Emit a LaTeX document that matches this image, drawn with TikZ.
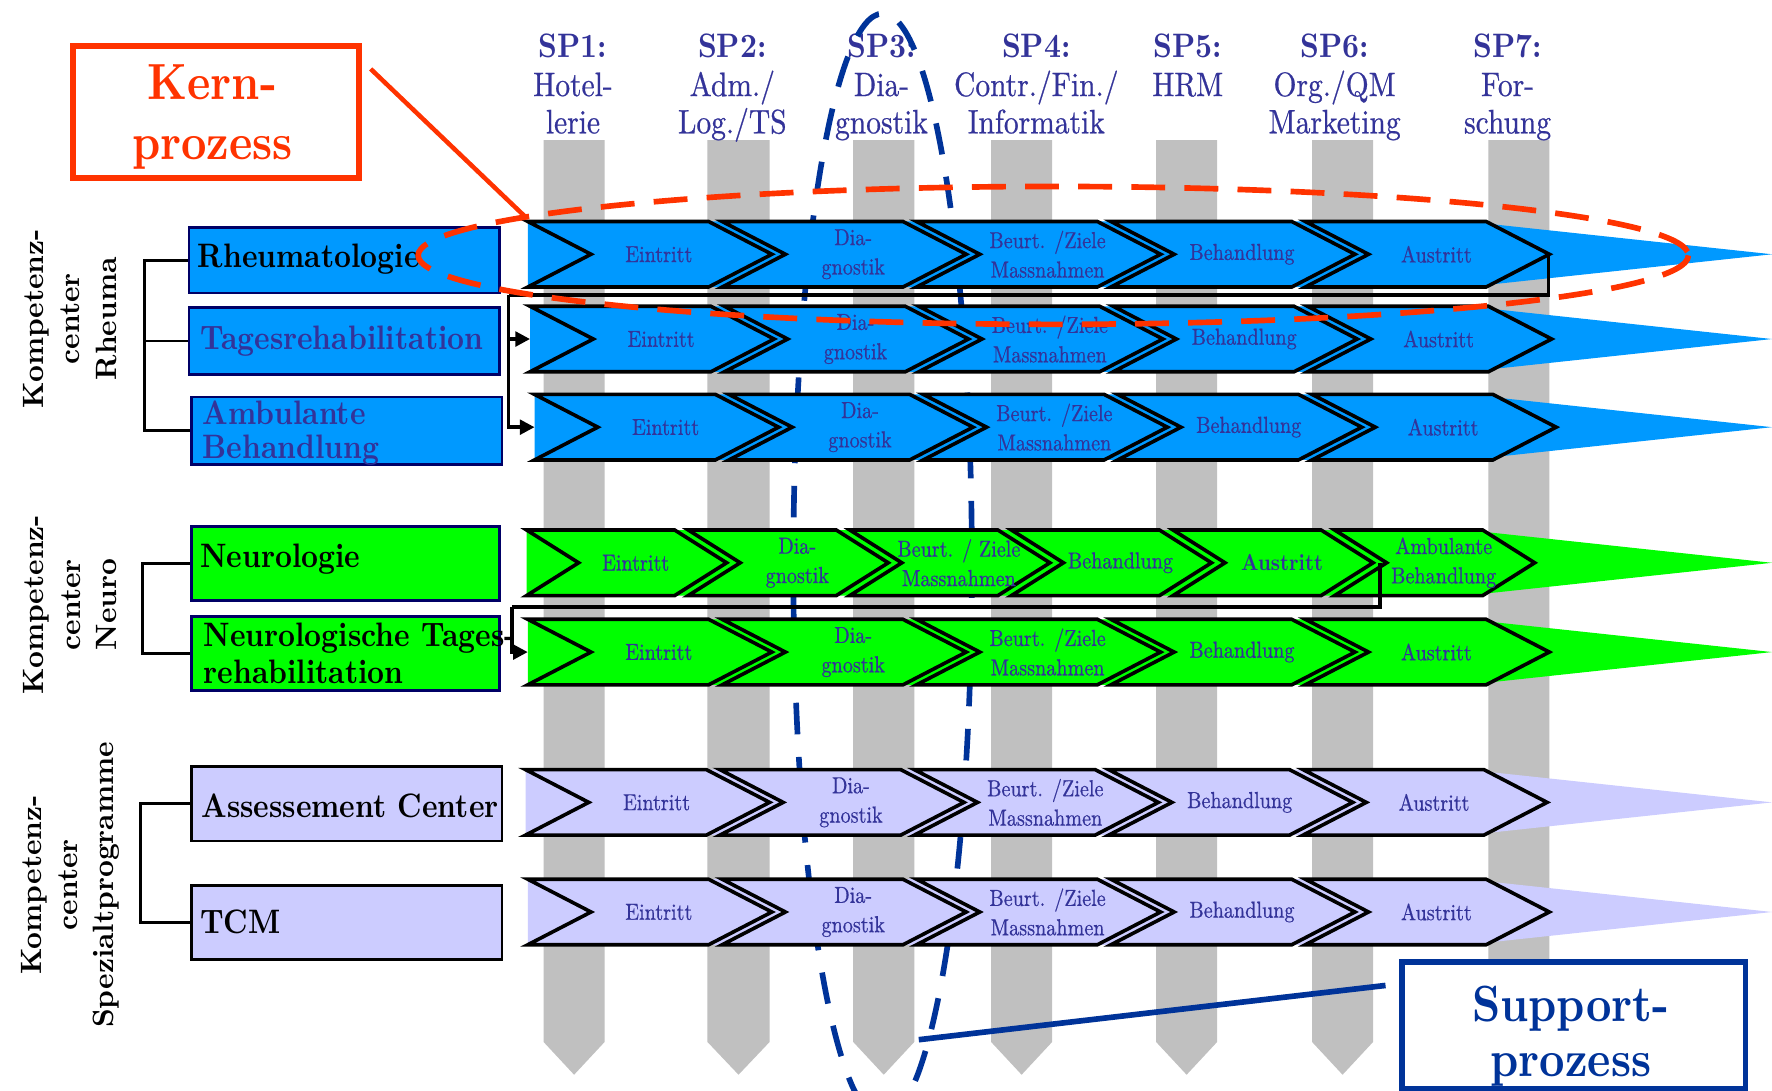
\documentclass[tikz,border=0pt]{standalone}
\usepackage{fontspec}
\setmainfont{lmroman10}[Extension=.otf, UprightFont=*-regular, BoldFont=*-bold, FakeStretch=0.87, UprightFeatures={FakeBold=0.6}]
\newfontfamily\grpf{lmroman10}[Extension=.otf, UprightFont=*-bold, BoldFont=*-bold]
\usetikzlibrary{arrows.meta}
\definecolor{rheu}{HTML}{0099FF}
\definecolor{neur}{HTML}{00FF00}
\definecolor{spez}{HTML}{CCCCFF}
\definecolor{txtb}{HTML}{333399}
\definecolor{kernc}{HTML}{FF3300}
\definecolor{suppc}{HTML}{003399}
\definecolor{barg}{HTML}{C0C0C0}
\definecolor{bxnav}{HTML}{000066}
\tikzset{
  chev/.style={draw=black, line width=3.2pt, line join=miter},
  lbl/.style={text=txtb, font=\fontsize{20.5}{26}\selectfont, align=center, inner sep=0pt},
  hdr/.style={text=txtb, font=\fontsize{30}{34}\selectfont, anchor=base, inner sep=0pt},
  hdrb/.style={hdr, font=\bfseries\fontsize{30}{34}\selectfont},
  lbox/.style={line width=2.5pt, anchor=north west, inner sep=0pt},
  ltxt/.style={font=\bfseries\fontsize{30}{33}\selectfont, anchor=west, align=left, inner sep=0pt},
  grp/.style={font=\grpf\fontsize{26}{32}\selectfont, rotate=90, align=center, inner sep=0pt},
  brk/.style={line width=2.5pt, draw=black},
  conn/.style={line width=3pt, draw=black},
  tip/.style={-{Triangle[length=13pt,width=13pt]}},
  bigtxt/.style={font=\bfseries\fontsize{45}{52}\selectfont, anchor=base, inner sep=0pt},
}
% #1 name, #2 top, #3 bottom, #4 x0, #5 step, #6 width, #7 point depth, #8 colour, #9 labels
\newcommand{\chevrow}[9]{%
  \fill[#8] (#4,#2) -- (1298,#2) -- (1568,{(#2+#3)/2}) -- (1298,#3) -- (#4,#3) -- cycle;
  \foreach \lab [count=\i from 0] in {#9} {
    \pgfmathsetmacro{\ax}{#4+\i*#5}
    \draw[chev,fill=#8] (\ax,#2) -- ++(#6,0) -- ++(#7,{(#3-#2)/2}) -- ++(-#7,{(#3-#2)/2})
      -- ++(-#6,0) -- ++(#7,{-(#3-#2)/2}) -- cycle;
    \node[lbl] (#1-\i) at ({\ax+(#6+#7)/2+8},{(#2+#3)/2}) {\lab};
  }%
}
\begin{document}
\begin{tikzpicture}[x=1pt,y=-1pt]
\useasboundingbox (0,0) rectangle (1568,965);
\clip (0,0) rectangle (1568,965);
\fill[white] (0,0) rectangle (1568,965);

% grey support columns
\foreach \l/\r in {481/535,626/681,755/809,877/931,1023/1077,1161/1215,1317/1371}
  \fill[barg] (\l,124) -- (\r,124) -- (\r,922) -- ({(\l+\r)/2},951) -- (\l,922) -- cycle;

% headers
\node[hdrb] (h1a) at (507,51) {SP1:};
\node[hdr]  (h1b) at (507,85) {Hotel-};
\node[hdr]  (h1c) at (507,118) {lerie};
\node[hdrb] (h2a) at (648,51) {SP2:};
\node[hdr]  (h2b) at (648,85) {Adm./};
\node[hdr]  (h2c) at (648,118) {Log./TS};
\node[hdrb] (h3a) at (780,51) {SP3:};
\node[hdr]  (h3b) at (780,85) {Dia-};
\node[hdr]  (h3c) at (780,118) {gnostik};
\node[hdrb] (h4a) at (917,51) {SP4:};
\node[hdr]  (h4b) at (917,85) {Contr./Fin./};
\node[hdr]  (h4c) at (917,118) {Informatik};
\node[hdrb] (h5a) at (1051,51) {SP5:};
\node[hdr]  (h5b) at (1051,85) {HRM};
\node[hdrb] (h6a) at (1181,51) {SP6:};
\node[hdr]  (h6b) at (1181,85) {Org./QM};
\node[hdr]  (h6c) at (1181,118) {Marketing};
\node[hdrb] (h7a) at (1334,51) {SP7:};
\node[hdr]  (h7b) at (1334,85) {For-};
\node[hdr]  (h7c) at (1334,118) {schung};

% support process ellipse (behind the rows)
\draw[suppc, line width=5pt, dash pattern=on 28pt off 20pt] (781,501) ellipse [x radius=79, y radius=489];

% group labels
\node[grp] (g1) at (62,282) {Kompetenz-\\center\\Rheuma};
\node[grp] (g2) at (62,535) {Kompetenz-\\center\\Neuro};
\node[grp] (g3) at (62,783) {Kompetenz-\\center\\Spezialtprogramme};

% left boxes
\node[lbox, draw=bxnav, fill=rheu, minimum width=275pt, minimum height=58pt] (b1) at (166,200) {};
\node[lbox, draw=bxnav, fill=rheu, minimum width=275pt, minimum height=59pt] (b2) at (166,271) {};
\node[lbox, draw=bxnav, fill=rheu, minimum width=275pt, minimum height=60pt] (b3) at (168,350) {};
\node[lbox, draw=bxnav, fill=neur, minimum width=273pt, minimum height=65pt] (b4) at (168,465) {};
\node[lbox, draw=bxnav, fill=neur, minimum width=273pt, minimum height=66pt] (b5) at (168,544) {};
\node[lbox, draw=black, fill=spez, minimum width=275pt, minimum height=66pt] (b6) at (168,677) {};
\node[lbox, draw=black, fill=spez, minimum width=275pt, minimum height=66pt] (b7) at (168,782) {};

\node[ltxt] (t1) at (175,229) {Rheumatologie};
\node[ltxt, text=txtb] (t2) at (177,302) {Tagesrehabilitation};
\node[ltxt, text=txtb, font=\bfseries\fontsize{30}{30}\selectfont] (t3) at (179,383) {Ambulante\\Behandlung};
\node[ltxt] (t4) at (177,495) {Neurologie};
\node[ltxt] (t5) at (180,578) {Neurologische Tages-\\rehabilitation};
\node[ltxt] (t6) at (178,713) {Assessement Center};
\node[ltxt] (t7) at (177,816) {TCM};

% brackets
\draw[brk] (b1.west) -- ++(-38,0) |- (b3.west);
\draw[brk] (b2.west) -- ++(-38,0);
\draw[brk] (b4.west) -- ++(-42,0) |- (b5.west);
\draw[brk] (b6.west) -- ++(-44,0) |- (b7.west);

% process rows
\chevrow{r1}{196}{254}{467}{172}{160}{56}{rheu}{Eintritt,{Dia-\\gnostik},{Beurt. /Ziele\\Massnahmen},Behandlung,Austritt}
\chevrow{r2}{271}{329}{469}{172}{160}{56}{rheu}{Eintritt,{Dia-\\gnostik},{Beurt. /Ziele\\Massnahmen},Behandlung,Austritt}
\chevrow{r3}{349}{407}{473}{172}{160}{56}{rheu}{Eintritt,{Dia-\\gnostik},{Beurt. /Ziele\\Massnahmen},Behandlung,Austritt}
\chevrow{r4}{469}{527}{466}{143}{131}{46}{neur}{Eintritt,{Dia-\\gnostik},{Beurt. / Ziele\\Massnahmen},Behandlung,{\bfseries Austritt},{Ambulante\\Behandlung}}
\chevrow{r5}{548}{606}{467}{172}{160}{56}{neur}{Eintritt,{Dia-\\gnostik},{Beurt. /Ziele\\Massnahmen},Behandlung,Austritt}
\chevrow{r6}{681}{739}{465}{172}{160}{56}{spez}{Eintritt,{Dia-\\gnostik},{Beurt. /Ziele\\Massnahmen},Behandlung,Austritt}
\chevrow{r7}{778}{836}{467}{172}{160}{56}{spez}{Eintritt,{Dia-\\gnostik},{Beurt. /Ziele\\Massnahmen},Behandlung,Austritt}

% connectors between rows
\coordinate (r1end) at (1370,225);
\coordinate (rsplit) at (450,261);
\coordinate (r2in) at (469,300);
\coordinate (r3in) at (473,378);
\draw[conn] (r1end) |- (rsplit);
\draw[conn, tip] (rsplit) |- (r2in);
\draw[conn, tip] (rsplit) |- (r3in);
\coordinate (n1end) at (1221,498);
\coordinate (nsplit) at (453,537);
\coordinate (n2in) at (467,577);
\draw[conn] (n1end) |- (nsplit);
\draw[conn, tip] (nsplit) |- (n2in);

% core process ellipse
\draw[kernc, line width=5pt, dash pattern=on 30pt off 17pt] (932,226) ellipse [x radius=562, y radius=61];

% Kern-prozess callout
\node[draw=kernc, line width=5pt, fill=white, minimum width=253pt, minimum height=117pt, anchor=north west, inner sep=0pt] (kernbox) at (62,38) {};
\node[bigtxt, text=kernc] (kern1) at (188,88) {Kern-};
\node[bigtxt, text=kernc] (kern2) at (188,141) {prozess};
\coordinate (kl1) at (328,61);
\coordinate (kl2) at (466,193);
\draw[kernc, line width=4pt] (kl1) -- (kl2);

% Support-prozess callout
\node[draw=suppc, line width=5pt, fill=white, minimum width=304pt, minimum height=112pt, anchor=north west, inner sep=0pt] (suppbox) at (1238,849) {};
\node[bigtxt, text=suppc] (supp1) at (1390,904) {Support-};
\node[bigtxt, text=suppc] (supp2) at (1390,953) {prozess};
\coordinate (sl1) at (1226,872);
\coordinate (sl2) at (813,920);
\draw[suppc, line width=5pt] (sl1) -- (sl2);
\end{tikzpicture}
\end{document}
